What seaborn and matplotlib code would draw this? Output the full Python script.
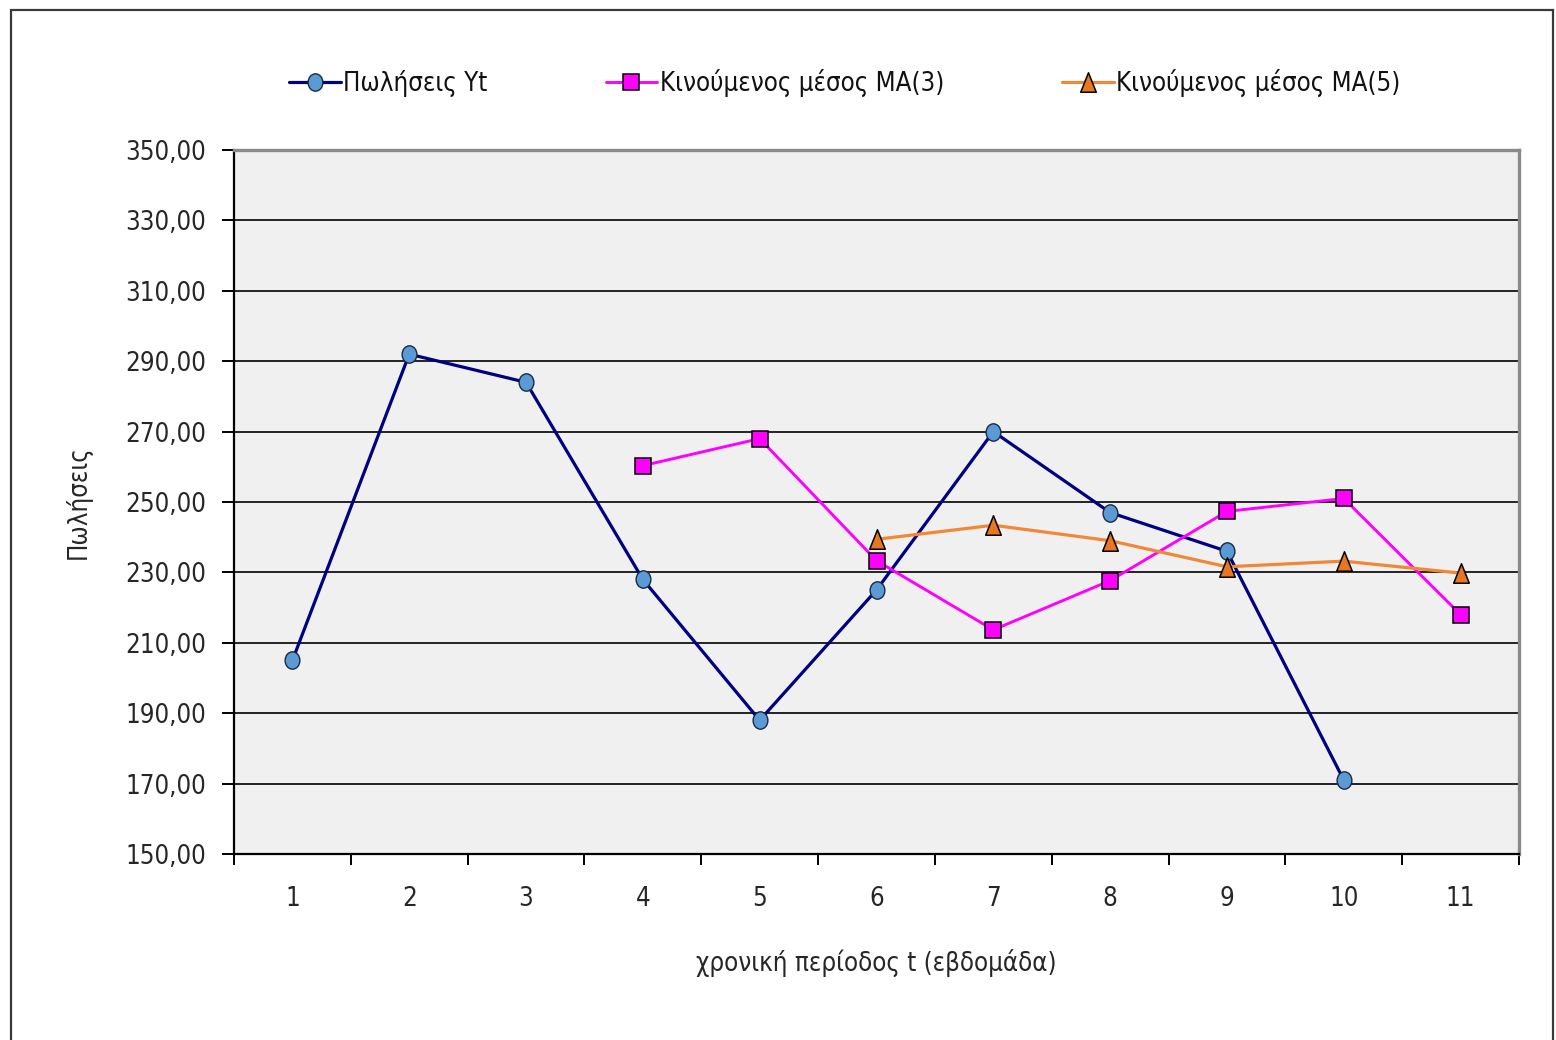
import matplotlib
matplotlib.use("Agg")
import matplotlib.pyplot as plt
import numpy as np
from matplotlib.patches import Rectangle
from matplotlib.path import Path
from matplotlib.ticker import FixedLocator, FuncFormatter
import seaborn as sns

# Weekly sales and moving averages
periods = [1, 2, 3, 4, 5, 6, 7, 8, 9, 10, 11]
sales_t = [1, 2, 3, 4, 5, 6, 7, 8, 9, 10]
sales = [205, 292, 284, 228, 188, 225, 270, 247, 236, 171]
ma3_t = [4, 5, 6, 7, 8, 9, 10, 11]
ma3 = [260.33, 268.00, 233.33, 213.67, 227.67, 247.33, 251.00, 218.00]
ma5_t = [6, 7, 8, 9, 10, 11]
ma5 = [239.4, 243.4, 239.0, 231.6, 233.2, 229.8]

series_names = ["Πωλήσεις Yt", "Κινούμενος μέσος MA(3)", "Κινούμενος μέσος MA(5)"]
y_ticks = [150, 170, 190, 210, 230, 250, 270, 290, 310, 330, 350]
x_label = "χρονική περίοδος t (εβδομάδα)"
y_label = "Πωλήσεις"

sns.set_theme(style="white")
plt.rcParams["font.family"] = ["DejaVu Sans"]
plt.rcParams["font.stretch"] = "condensed"
plt.rcParams["text.color"] = "#111111"

FS = 18.5

# slightly tall marker shapes
_circ = Path.unit_circle()
oval_marker = Path(_circ.vertices * np.array([0.85, 1.0]), _circ.codes)
tri_marker = Path([(0, 1), (-0.8, -1), (0.8, -1), (0, 1)],
                  [Path.MOVETO, Path.LINETO, Path.LINETO, Path.CLOSEPOLY])

fig = plt.figure(figsize=(15.56, 10.40), dpi=100)
ax = fig.add_axes([234 / 1556, 1 - 854 / 1040, (1519 - 234) / 1556, (854 - 150) / 1040])
ax.set_facecolor("#f0f0f0")

# outer chart frame
fig.patches.append(Rectangle((11 / 1556, -0.02), (1553 - 11) / 1556, 1.0 - 10 / 1040 + 0.02,
                             transform=fig.transFigure, fill=False,
                             edgecolor="#3a3a3a", linewidth=1.6, zorder=0))

ax.set_xlim(0.5, 11.5)
ax.set_ylim(150, 350)

for yv in y_ticks[1:-1]:
    ax.axhline(yv, color="#000000", linewidth=1.2, zorder=1)

sns.lineplot(x=sales_t, y=sales, ax=ax, color="#000080", linewidth=2.3,
             marker=oval_marker, markersize=12.5, markerfacecolor="#5b9bd5",
             markeredgecolor="#1a2a40", markeredgewidth=1.0,
             label=series_names[0], zorder=3)
sns.lineplot(x=ma3_t, y=ma3, ax=ax, color="#ff00ff", linewidth=2.1,
             marker="s", markersize=11, markerfacecolor="#ff00ff",
             markeredgecolor="#000000", markeredgewidth=1.1,
             label=series_names[1], zorder=4)
sns.lineplot(x=ma5_t, y=ma5, ax=ax, color="#f08838", linewidth=2.3,
             marker=tri_marker, markersize=14, markerfacecolor="#e87722",
             markeredgecolor="#000000", markeredgewidth=1.1,
             label=series_names[2], zorder=5)

# axes styling
for side in ["left", "bottom"]:
    ax.spines[side].set_color("#000000")
    ax.spines[side].set_linewidth(1.6)
for side in ["top", "right"]:
    ax.spines[side].set_color("#8a8a8a")
    ax.spines[side].set_linewidth(2.4)

ax.yaxis.set_major_locator(FixedLocator(y_ticks))
ax.yaxis.set_major_formatter(FuncFormatter(lambda v, p: f"{v:.2f}".replace(".", ",")))
ax.tick_params(axis="y", which="major", direction="out", length=9, width=1.4,
               color="#000000", pad=11, labelsize=FS, left=True)

ax.xaxis.set_major_locator(FixedLocator(periods))
ax.set_xticklabels([str(p) for p in periods])
ax.xaxis.set_minor_locator(FixedLocator([p + 0.5 for p in [0] + periods]))
ax.tick_params(axis="x", which="major", length=0, pad=23, labelsize=FS)
ax.tick_params(axis="x", which="minor", direction="out", length=8, width=1.4,
               color="#000000", bottom=True)

ax.set_xlabel(x_label, fontsize=FS, labelpad=27)
ax.set_ylabel(y_label, fontsize=FS, labelpad=24)

ax.get_legend().remove()
handles, labels = ax.get_legend_handles_labels()
fig.legend(handles, labels, loc="center", bbox_to_anchor=(845 / 1556, 1 - 83 / 1040),
           ncol=3, frameon=False, fontsize=FS, handlelength=2.0, handletextpad=0.1,
           columnspacing=4.6)

fig.savefig("out.png", dpi=100)
